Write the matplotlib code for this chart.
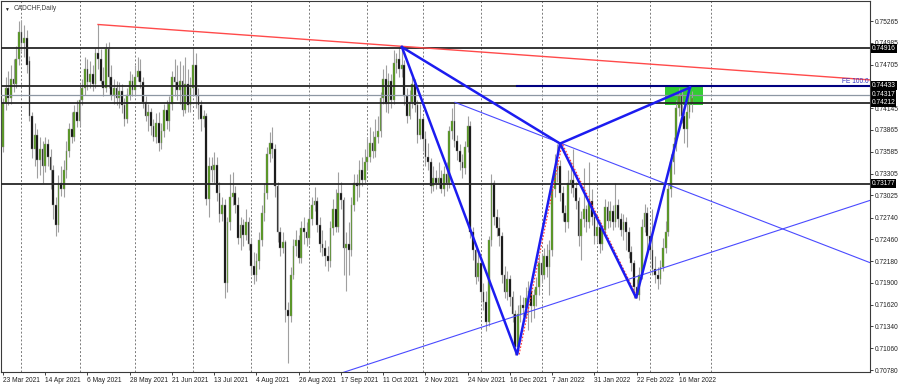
import matplotlib
matplotlib.use("Agg")
import matplotlib.pyplot as plt
from matplotlib.patches import Rectangle
import pandas as pd

plt.rcParams['font.family'] = ['Liberation Sans', 'DejaVu Sans']

# daily CADCHF bars from 23 Mar 2021 (one per weekday)
opens = [
    .7364, .7421, .7440, .7428, .7452, .7446, .7478, .7512, .7498, .7505,
    .7475, .7405, .7362, .7380, .7348, .7362, .7340, .7368, .7352, .7335,
    .7290, .7265, .7318, .7310, .7335, .7360, .7388, .7378, .7410, .7398,
    .7425, .7440, .7465, .7448, .7458, .7445, .7485, .7478, .7450, .7440,
    .7490, .7455, .7432, .7440, .7428, .7436, .7418, .7400, .7432, .7450,
    .7438, .7455, .7462, .7448, .7422, .7405, .7410, .7392, .7378, .7395,
    .7370, .7385, .7412, .7398, .7420, .7455, .7448, .7438, .7450, .7412,
    .7445, .7418, .7440, .7470, .7430, .7418, .7400, .7405, .7298, .7340,
    .7335, .7342, .7305, .7278, .7290, .7190, .7268, .7300, .7306, .7290,
    .7248, .7265, .7252, .7268, .7240, .7212, .7200, .7218, .7245, .7280,
    .7305, .7356, .7370, .7362, .7315, .7255, .7235, .7242, .7155, .7148,
    .7200, .7238, .7245, .7222, .7260, .7255, .7248, .7272, .7290, .7295,
    .7265, .7240, .7235, .7225, .7218, .7260, .7285, .7262, .7305, .7296,
    .7235, .7240, .7232, .7290, .7318, .7315, .7335, .7322, .7345, .7352,
    .7370, .7360, .7378, .7385, .7428, .7452, .7420, .7450, .7425, .7472,
    .7478, .7465, .7470, .7430, .7405, .7422, .7445, .7418, .7380, .7400,
    .7375, .7352, .7345, .7315, .7325, .7318, .7325, .7310, .7330, .7318,
    .7385, .7398, .7372, .7360, .7345, .7338, .7365, .7392, .7255, .7232,
    .7198, .7215, .7178, .7165, .7140, .7245, .7318, .7275, .7260, .7250,
    .7200, .7178, .7195, .7172, .7150, .7108, .7150, .7162, .7158, .7170,
    .7180, .7160, .7175, .7185, .7215, .7200, .7225, .7210, .7232, .7310,
    .7335, .7340, .7305, .7280, .7268, .7318, .7322, .7312, .7295, .7250,
    .7272, .7285, .7268, .7295, .7275, .7250, .7262, .7240, .7258, .7288,
    .7270, .7282, .7268, .7290, .7272, .7258, .7268, .7255, .7230, .7215,
    .7185, .7175, .7200, .7262, .7280, .7250, .7232, .7208, .7200, .7195,
    .7210, .7235, .7255, .7310, .7345, .7368, .7415, .7432, .7405, .7388,
    .7410, .7420]
highs = [
    .7428, .7455, .7462, .7470, .7478, .7495, .7527, .7528, .7522, .7515,
    .7482, .7410, .7395, .7388, .7378, .7372, .7378, .7375, .7362, .7342,
    .7300, .7328, .7340, .7348, .7372, .7395, .7410, .7418, .7425, .7440,
    .7452, .7480, .7478, .7475, .7470, .7492, .7523, .7490, .7468, .7498,
    .7500, .7470, .7452, .7450, .7448, .7445, .7428, .7440, .7462, .7458,
    .7470, .7480, .7478, .7455, .7430, .7420, .7415, .7400, .7408, .7410,
    .7395, .7420, .7425, .7430, .7462, .7478, .7470, .7475, .7470, .7480,
    .7465, .7455, .7490, .7485, .7440, .7425, .7412, .7408, .7352, .7352,
    .7358, .7352, .7320, .7300, .7298, .7275, .7330, .7332, .7315, .7300,
    .7275, .7272, .7285, .7275, .7248, .7230, .7228, .7255, .7290, .7318,
    .7365, .7384, .7390, .7368, .7320, .7262, .7255, .7245, .7165, .7210,
    .7246, .7258, .7252, .7270, .7275, .7268, .7285, .7300, .7313, .7300,
    .7275, .7258, .7245, .7238, .7270, .7298, .7310, .7332, .7320, .7300,
    .7255, .7268, .7300, .7330, .7330, .7348, .7352, .7362, .7378, .7390,
    .7385, .7400, .7405, .7435, .7465, .7470, .7460, .7458, .7489, .7485,
    .7493, .7494, .7476, .7440, .7438, .7455, .7452, .7425, .7420, .7405,
    .7385, .7370, .7350, .7340, .7335, .7345, .7335, .7340, .7345, .7392,
    .7415, .7422, .7380, .7368, .7355, .7372, .7405, .7398, .7262, .7240,
    .7232, .7222, .7190, .7180, .7250, .7330, .7322, .7285, .7275, .7255,
    .7212, .7205, .7200, .7180, .7155, .7162, .7175, .7172, .7185, .7192,
    .7188, .7182, .7198, .7225, .7228, .7235, .7240, .7245, .7318, .7355,
    .7369, .7348, .7315, .7290, .7335, .7345, .7362, .7320, .7300, .7282,
    .7338, .7290, .7345, .7310, .7282, .7275, .7270, .7265, .7298, .7295,
    .7295, .7290, .7318, .7298, .7280, .7278, .7275, .7262, .7238, .7220,
    .7195, .7210, .7272, .7292, .7288, .7262, .7285, .7225, .7210, .7220,
    .7248, .7270, .7318, .7355, .7378, .7425, .7440, .7438, .7415, .7420,
    .7440, .7436]
lows = [
    .7358, .7412, .7418, .7420, .7435, .7440, .7470, .7488, .7480, .7460,
    .7398, .7350, .7340, .7325, .7328, .7318, .7332, .7340, .7310, .7272,
    .7250, .7255, .7302, .7300, .7325, .7352, .7370, .7372, .7390, .7392,
    .7418, .7432, .7438, .7440, .7436, .7440, .7465, .7445, .7430, .7435,
    .7440, .7425, .7420, .7418, .7415, .7408, .7392, .7395, .7425, .7430,
    .7432, .7450, .7440, .7415, .7398, .7385, .7380, .7372, .7370, .7360,
    .7362, .7378, .7388, .7385, .7412, .7430, .7425, .7420, .7405, .7408,
    .7410, .7410, .7430, .7415, .7400, .7385, .7390, .7290, .7275, .7320,
    .7318, .7295, .7268, .7270, .7170, .7178, .7258, .7290, .7280, .7240,
    .7232, .7238, .7245, .7232, .7200, .7188, .7192, .7208, .7238, .7270,
    .7298, .7345, .7350, .7300, .7242, .7225, .7228, .7140, .7087, .7140,
    .7195, .7225, .7215, .7215, .7240, .7238, .7240, .7265, .7282, .7255,
    .7230, .7225, .7212, .7205, .7210, .7252, .7255, .7255, .7285, .7200,
    .7180, .7200, .7225, .7282, .7295, .7300, .7315, .7318, .7335, .7345,
    .7350, .7352, .7370, .7378, .7420, .7410, .7408, .7415, .7420, .7460,
    .7455, .7455, .7418, .7395, .7400, .7415, .7410, .7370, .7375, .7360,
    .7340, .7335, .7305, .7308, .7310, .7312, .7305, .7302, .7308, .7312,
    .7375, .7365, .7348, .7335, .7325, .7330, .7358, .7248, .7220, .7188,
    .7192, .7168, .7155, .7128, .7135, .7238, .7265, .7250, .7238, .7190,
    .7170, .7168, .7160, .7140, .7097, .7100, .7140, .7148, .7145, .7130,
    .7140, .7145, .7160, .7175, .7190, .7195, .7198, .7175, .7225, .7300,
    .7320, .7295, .7270, .7255, .7260, .7305, .7300, .7285, .7238, .7220,
    .7262, .7255, .7260, .7265, .7240, .7242, .7228, .7232, .7250, .7260,
    .7262, .7258, .7262, .7262, .7250, .7245, .7232, .7222, .7205, .7170,
    .7170, .7168, .7195, .7255, .7232, .7222, .7200, .7190, .7182, .7188,
    .7205, .7228, .7250, .7300, .7330, .7360, .7405, .7395, .7370, .7365,
    .7402, .7410]
closes = [
    .7421, .7440, .7428, .7452, .7446, .7478, .7512, .7498, .7505, .7470,
    .7405, .7362, .7380, .7348, .7362, .7340, .7368, .7352, .7335, .7290,
    .7265, .7318, .7310, .7335, .7360, .7388, .7378, .7410, .7398, .7425,
    .7440, .7465, .7448, .7458, .7445, .7485, .7478, .7450, .7440, .7490,
    .7455, .7432, .7440, .7428, .7436, .7418, .7400, .7432, .7450, .7438,
    .7455, .7462, .7448, .7422, .7405, .7410, .7392, .7378, .7395, .7370,
    .7385, .7412, .7398, .7420, .7455, .7448, .7438, .7450, .7412, .7445,
    .7418, .7440, .7470, .7430, .7418, .7400, .7405, .7298, .7340, .7335,
    .7342, .7305, .7278, .7290, .7190, .7268, .7300, .7306, .7290, .7248,
    .7265, .7252, .7268, .7240, .7212, .7200, .7218, .7245, .7280, .7305,
    .7356, .7370, .7362, .7315, .7255, .7235, .7242, .7155, .7148, .7200,
    .7238, .7245, .7222, .7260, .7255, .7248, .7272, .7290, .7295, .7265,
    .7240, .7235, .7225, .7218, .7260, .7285, .7262, .7305, .7296, .7235,
    .7240, .7232, .7290, .7318, .7315, .7335, .7322, .7345, .7352, .7370,
    .7360, .7378, .7385, .7428, .7452, .7420, .7450, .7425, .7472, .7478,
    .7465, .7470, .7430, .7405, .7422, .7445, .7418, .7380, .7400, .7375,
    .7352, .7345, .7315, .7325, .7318, .7325, .7310, .7330, .7318, .7385,
    .7398, .7372, .7360, .7345, .7338, .7365, .7392, .7255, .7232, .7198,
    .7215, .7178, .7165, .7140, .7245, .7318, .7275, .7260, .7250, .7200,
    .7178, .7195, .7172, .7150, .7108, .7150, .7162, .7158, .7170, .7180,
    .7160, .7175, .7185, .7215, .7200, .7225, .7210, .7232, .7310, .7335,
    .7340, .7305, .7280, .7268, .7318, .7322, .7312, .7295, .7250, .7272,
    .7285, .7268, .7295, .7275, .7250, .7262, .7240, .7258, .7288, .7270,
    .7282, .7268, .7290, .7272, .7258, .7268, .7255, .7230, .7215, .7185,
    .7175, .7200, .7262, .7280, .7250, .7232, .7208, .7200, .7195, .7210,
    .7235, .7255, .7310, .7345, .7368, .7415, .7432, .7405, .7388, .7410,
    .7420, .7428]

# horizontal levels (label boxes on the price scale)
levels_black = [0.74916, 0.74433, 0.74212, 0.73177]
level_grey = 0.74317
fe_level = 0.74433
price_ticks = [0.75265, 0.74985, 0.74705, 0.74145, 0.73865, 0.73585,
               0.73305, 0.73025, 0.72740, 0.72460, 0.72180, 0.71900, 0.71620,
               0.71340, 0.71060, 0.70780]

# drawn objects, as (bar index, price)
red_line = [(36, 0.7522), (151, 0.7494)]
rising_line = [(128, 0.7074), (328.4, 0.7296)]
falling_line = [(171.2, 0.7422), (328.4, 0.7216)]
xabcd_bars = [151.1, 194.7, 211.0, 239.8, 260.2]
xabcd_prices = [0.7493, 0.7098, 0.7369, 0.7171, 0.7441]
fibo_bars = [195.5, 211.8, 240.3]
fibo_prices = [0.7098, 0.7369, 0.7171]
zone_bars = (250.8, 265.2)
zone_prices = (0.7419, 0.74433)

n = len(closes)
dates = pd.bdate_range('2021-03-23', periods=340)
x_right = 328.4

fig = plt.figure(figsize=(9, 3.86), dpi=100)
ax = fig.add_axes([1 / 900, 14 / 386, 869 / 900, 371 / 386])
ax.set_xlim(-0.76, x_right)
ax.set_ylim(0.70755, 0.75522)

# month grid (only over the loaded history)
for i in range(1, n + 12):
    if dates[i].month != dates[i - 1].month:
        ax.axvline(i, color='#7a7a7a', lw=0.7, ls=(0, (2, 2)), zorder=0)

# green zone
ax.add_patch(Rectangle((zone_bars[0], zone_prices[0]), zone_bars[1] - zone_bars[0],
                       zone_prices[1] - zone_prices[0], color='#33cc33', lw=0, zorder=1))

# candles
xs = list(range(n))
ax.vlines(xs, lows, highs, color='#a0a0a0', lw=0.8, zorder=2)
bull = [i for i in xs if closes[i] >= opens[i]]
bear = [i for i in xs if closes[i] < opens[i]]
ax.bar(bull, [closes[i] - opens[i] for i in bull], bottom=[opens[i] for i in bull],
       width=0.65, color='#4f9a12', edgecolor='#8a8a8a', lw=0.3, zorder=3)
ax.bar(bear, [opens[i] - closes[i] for i in bear], bottom=[closes[i] for i in bear],
       width=0.65, color='black', edgecolor='#8a8a8a', lw=0.3, zorder=3)

# horizontal lines
for lv in levels_black:
    ax.axhline(lv, color='#262626', lw=1.3, zorder=4)
ax.axhline(level_grey, color='#8d97a3', lw=0.9, zorder=4)
ax.plot([xabcd_bars[1], x_right], [fe_level, fe_level], color='#000080', lw=1.5, zorder=5)
ax.text(x_right - 0.5, fe_level + 0.00005, 'FE 100.0', color='#3030c0', fontsize=4.8,
        ha='right', va='bottom', zorder=6)


def ray(p, q):
    slope = (q[1] - p[1]) / (q[0] - p[0])
    return [p[0], x_right], [p[1], p[1] + slope * (x_right - p[0])]


rx, ry = ray(*red_line)
ax.plot(rx, ry, color='#ff4a4a', lw=1.0, zorder=4)
for ln in (rising_line, falling_line):
    lx, ly = ray(*ln)
    ax.plot(lx, ly, color='#4a4aff', lw=0.8, zorder=4)

# fibo expansion anchors (dotted) and XABCD pattern
ax.plot(fibo_bars, fibo_prices, color='#ff3030', lw=0.8, ls=(0, (1.5, 1.5)), zorder=5)
ax.plot(xabcd_bars, xabcd_prices, color='#1c1cf0', lw=1.8, zorder=6)
ax.plot([xabcd_bars[0], xabcd_bars[2], xabcd_bars[4]],
        [xabcd_prices[0], xabcd_prices[2], xabcd_prices[4]], color='#1c1cf0', lw=1.8, zorder=6)

# axes style
for s in ax.spines.values():
    s.set_color('#3a3a3a')
    s.set_linewidth(0.8)
ax.yaxis.tick_right()
ax.set_yticks(price_ticks)
ax.set_yticklabels([f'{p:.5f}' for p in price_ticks])
ax.tick_params(axis='y', length=2, width=0.6, labelsize=4.8, pad=1.5, colors='#222222')
label_idx = list(range(0, n, 16))
ax.set_xticks(label_idx)
ax.set_xticklabels([f'{dates[i].day} {dates[i]:%b %Y}' for i in label_idx], ha='left')
ax.tick_params(axis='x', length=2, width=0.6, labelsize=4.8, pad=1.5, colors='#222222')

for lv in levels_black + [level_grey]:
    ax.text(1.002, lv, f'{lv:.5f}', transform=ax.get_yaxis_transform(), color='white',
            fontsize=4.8, ha='left', va='center', clip_on=False, zorder=10,
            bbox=dict(boxstyle='square,pad=0.14', fc='black', ec='none'))

ax.text(0.004, 0.985, '\u25BC', transform=ax.transAxes, fontsize=3.5, ha='left', va='top',
        color='#202020')
ax.text(0.014, 0.988, 'CADCHF,Daily', transform=ax.transAxes, fontsize=4.8, ha='left',
        va='top', color='#404040')

fig.savefig('out.png', dpi=100)
